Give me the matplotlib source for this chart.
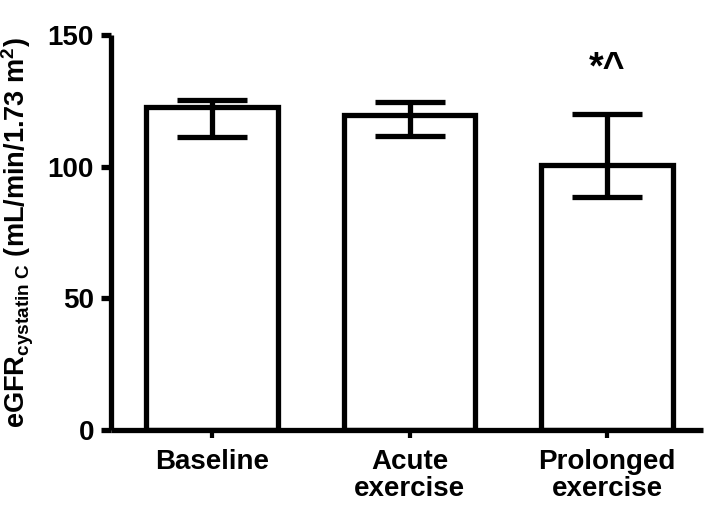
import matplotlib
matplotlib.use("Agg")
import matplotlib.pyplot as plt
import numpy as np

categories = ["Baseline", "Acute\nexercise", "Prolonged\nexercise"]
means = [122.6, 119.6, 100.6]
err_upper = [125.3, 124.7, 119.9]
err_lower = [111.4, 111.8, 88.6]
yticks = [0, 50, 100, 150]
annotation = "*^"

plt.rcParams['font.family'] = ['Liberation Sans', 'DejaVu Sans']
plt.rcParams['font.weight'] = 'bold'
plt.rcParams['mathtext.fontset'] = 'custom'
plt.rcParams['mathtext.rm'] = 'Liberation Sans:bold'
plt.rcParams['mathtext.it'] = 'Liberation Sans:bold'
plt.rcParams['mathtext.bf'] = 'Liberation Sans:bold'

fig = plt.figure(figsize=(7.09, 5.08), dpi=100)
ax = fig.add_axes([0.156, 0.1535, 0.836, 0.7775])

x = np.arange(len(categories))
m = np.array(means)
yerr = np.array([m - np.array(err_lower), np.array(err_upper) - m])

lw = 3.8
ax.bar(x, means, width=0.665, facecolor='white', edgecolor='black',
       linewidth=lw, zorder=2)
eb = ax.errorbar(x, means, yerr=yerr, fmt='none', ecolor='black',
                 elinewidth=lw, capsize=25, capthick=lw, zorder=3)
for c in eb[1]:
    c.set_solid_capstyle('round')
for lc in eb[2]:
    lc.set_capstyle('butt')

ax.text(2, 137, annotation, ha='center', va='center', fontsize=27,
        fontweight='bold')

ax.set_xlim(-0.513, 2.487)
ax.set_ylim(0, 150)
ax.set_yticks(yticks)
ax.set_xticks(x)
ax.set_xticklabels(categories, fontsize=20, fontweight='bold', linespacing=1.05)
ax.tick_params(axis='y', labelsize=20, width=lw, length=7, pad=5)
ax.tick_params(axis='x', width=lw * 0.8, length=6, pad=8)
for lab in ax.get_yticklabels():
    lab.set_fontweight('bold')

for s in ['top', 'right']:
    ax.spines[s].set_visible(False)
for s in ['left', 'bottom']:
    ax.spines[s].set_linewidth(lw)
    ax.spines[s].set_capstyle('butt')

ax.set_ylabel(r"eGFR$_{\mathrm{cystatin\ C}}$ (mL/min/1.73 m$^{2}$)",
              fontsize=19.5, fontweight='bold', labelpad=8)

fig.savefig("out.png", dpi=100)
